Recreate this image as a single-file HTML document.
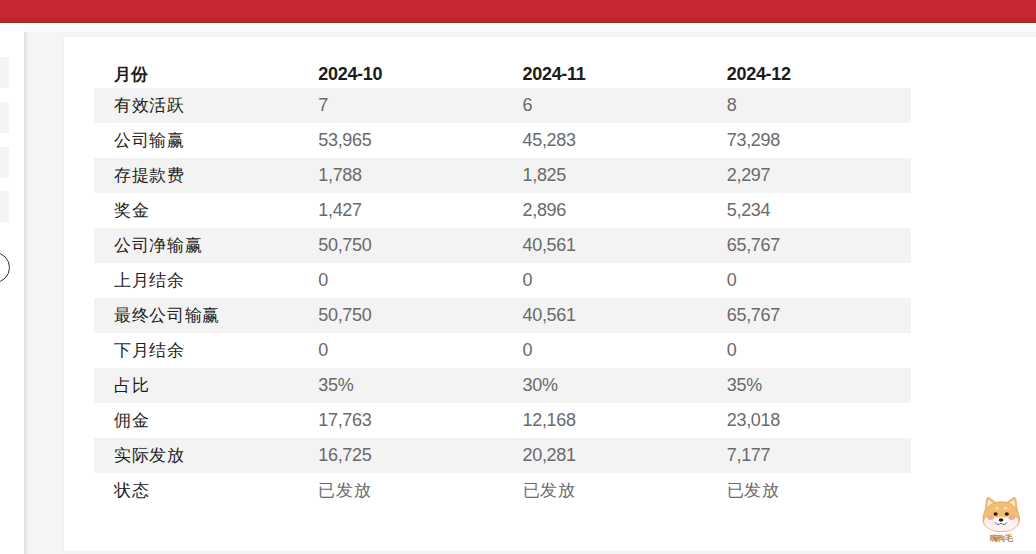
<!DOCTYPE html>
<html>
<head>
<meta charset="utf-8">
<style>
html,body{margin:0;padding:0;}
body{width:1036px;height:554px;overflow:hidden;position:relative;background:#f5f5f5;font-family:"Liberation Sans",sans-serif;}
.topbar{position:absolute;left:0;top:0;width:1036px;height:23px;background:linear-gradient(to bottom,#c52832 0,#c52832 16px,#c42536 16px,#c42536 18.5px,#c02523 18.5px,#c02523 22px,#8c2a34 22px,#8c2a34 23px);}
.strip{position:absolute;left:0;top:23px;width:1036px;height:9px;background:#fcfcfc;}
.left{position:absolute;left:0;top:23px;width:24px;height:531px;background:#fff;}
.lbox{position:absolute;left:0;width:9px;height:31px;background:#f4f4f4;}
.shadow{position:absolute;left:24px;top:32px;width:5px;height:522px;background:linear-gradient(to right,#e0e0e0,#f5f5f5);}
.circle{position:absolute;left:-21px;top:252px;width:31px;height:31px;border:1.8px solid #333;border-radius:50%;box-sizing:border-box;}
.card{position:absolute;left:64px;top:37px;width:972px;height:514px;background:#fff;box-shadow:0 0 2px rgba(0,0,0,0.06);}
table{position:absolute;left:30px;top:16px;width:817px;border-collapse:collapse;table-layout:fixed;}
td,th{padding:0 0 0 20px;height:35px;text-align:left;font-size:18px;white-space:nowrap;}
th{font-weight:bold;color:#1c1c1c;}
th span{position:relative;top:4px;letter-spacing:-0.3px;}
.c{letter-spacing:0.7px;font-size:17px;}
th span.h{font-size:17px;letter-spacing:-0.3px;top:3.5px;}
td{color:#6a6a6a;letter-spacing:-0.3px;}
td:first-child{color:#1e1e1e;letter-spacing:0.7px;font-size:17px;}
tr.s td{background:#f3f3f3;}
.dog{position:absolute;left:975px;top:490px;}
</style>
</head>
<body>
<div class="topbar"></div>
<div class="strip"></div>
<div class="left">
  <div class="lbox" style="top:34px"></div>
  <div class="lbox" style="top:79px"></div>
  <div class="lbox" style="top:124px"></div>
  <div class="lbox" style="top:168px"></div>
</div>
<div class="shadow"></div>
<div class="circle"></div>
<div class="card">
<table>
<tr><th><span class="h">月份</span></th><th><span>2024-10</span></th><th><span>2024-11</span></th><th><span>2024-12</span></th></tr>
<tr class="s"><td>有效活跃</td><td>7</td><td>6</td><td>8</td></tr>
<tr><td>公司输赢</td><td>53,965</td><td>45,283</td><td>73,298</td></tr>
<tr class="s"><td>存提款费</td><td>1,788</td><td>1,825</td><td>2,297</td></tr>
<tr><td>奖金</td><td>1,427</td><td>2,896</td><td>5,234</td></tr>
<tr class="s"><td>公司净输赢</td><td>50,750</td><td>40,561</td><td>65,767</td></tr>
<tr><td>上月结余</td><td>0</td><td>0</td><td>0</td></tr>
<tr class="s"><td>最终公司输赢</td><td>50,750</td><td>40,561</td><td>65,767</td></tr>
<tr><td>下月结余</td><td>0</td><td>0</td><td>0</td></tr>
<tr class="s"><td>占比</td><td>35%</td><td>30%</td><td>35%</td></tr>
<tr><td>佣金</td><td>17,763</td><td>12,168</td><td>23,018</td></tr>
<tr class="s"><td>实际发放</td><td>16,725</td><td>20,281</td><td>7,177</td></tr>
<tr><td>状态</td><td class="c">已发放</td><td class="c">已发放</td><td class="c">已发放</td></tr>
</table>
</div>
<svg class="dog" viewBox="975 490 52 56" width="52" height="56">
<path d="M985 512 L986.6 499 Q987.3 496.3 989.6 497.8 L997 503.5 Z" fill="#f3bb72" stroke="#d9a565" stroke-width="0.7" stroke-linejoin="round"/>
<path d="M1017.5 512 L1015.9 499 Q1015.2 496.3 1012.9 497.8 L1005.5 503.5 Z" fill="#f3bb72" stroke="#d9a565" stroke-width="0.7" stroke-linejoin="round"/>
<path d="M987.2 508 L988.2 499.8 L994.5 504 Z" fill="#fce9cc"/>
<path d="M1015.3 508 L1014.3 499.8 L1008 504 Z" fill="#fce9cc"/>
<path d="M1001.2 501.8 C1010 501.8 1016.5 507 1018.5 513.5 C1020.5 520 1019.5 524 1016 527 C1012 530.5 1007 531.6 1001.2 531.6 C995.4 531.6 990.4 530.5 986.4 527 C982.9 524 981.9 520 983.9 513.5 C985.9 507 992.4 501.8 1001.2 501.8 Z" fill="#f4bd74" stroke="#d5a062" stroke-width="0.75"/>
<path d="M984.2 520 C986 515.5 993 515.8 997 517.5 C999 517 1003.4 517 1005.4 517.5 C1009.4 515.8 1016.4 515.5 1018.2 520 C1018.6 523.5 1017 526 1015.5 527.2 C1011.5 530.4 1006.5 531.2 1001.2 531.2 C995.9 531.2 990.9 530.4 986.9 527.2 C985.4 526 983.8 523.5 984.2 520 Z" fill="#fdf0f0"/>
<ellipse cx="1001.2" cy="521.5" rx="6.5" ry="4.2" fill="#ffffff"/>
<ellipse cx="990.6" cy="517.6" rx="3.3" ry="2.3" fill="#f4a184" opacity="0.9"/>
<ellipse cx="1011.8" cy="517.6" rx="3.3" ry="2.3" fill="#f4a184" opacity="0.9"/>
<ellipse cx="997" cy="508.3" rx="1.7" ry="1.1" fill="#fde6c2"/>
<ellipse cx="1005.4" cy="508.3" rx="1.7" ry="1.1" fill="#fde6c2"/>
<ellipse cx="995.6" cy="514" rx="2.1" ry="1.7" fill="#2b1810"/>
<ellipse cx="1006.8" cy="514" rx="2.1" ry="1.7" fill="#2b1810"/>
<ellipse cx="1001.1" cy="519.9" rx="2.3" ry="1.6" fill="#1a1210"/>
<path d="M995.2 522.6 Q997.5 526 1001.1 523.3 Q1004.7 526 1007 522.6" fill="none" stroke="#4d4f5e" stroke-width="0.9" stroke-linecap="round"/>
<text x="1001.3" y="540.6" text-anchor="middle" font-family="Liberation Sans,sans-serif" font-size="8" font-weight="bold" fill="#b8843f" letter-spacing="-0.2">嗨狗毛</text>
</svg>
</body>
</html>
